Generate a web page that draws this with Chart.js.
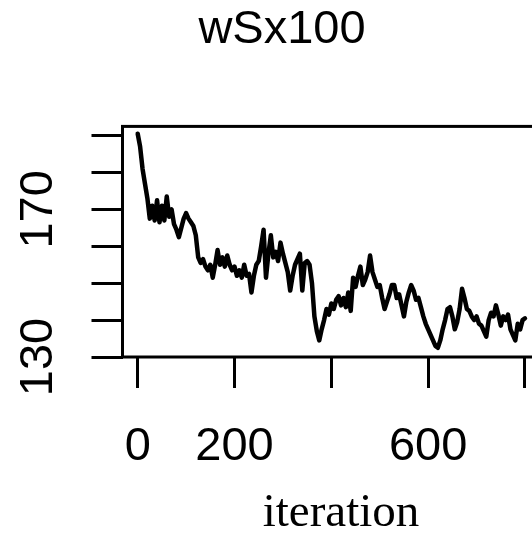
<!DOCTYPE html>
<html>
<head>
<meta charset="utf-8">
<script src="https://cdn.jsdelivr.net/npm/chart.js@4"></script>
<style>
  html, body { margin: 0; padding: 0; background: #fff; overflow: hidden; }
  #wrap { width: 600px; height: 533px; }
</style>
</head>
<body>
<div id="wrap"><canvas id="c" width="600" height="533"></canvas></div>
<script>
const wSx100 = [
  190.5, 187.0, 181.0, 177.0, 173.0, 167.5, 171.0, 167.0, 172.5, 166.5,
  171.0, 167.0, 173.5, 168.0, 170.0, 166.0, 164.5, 162.5, 165.0, 167.5,
  169.0, 167.5, 166.5, 165.5, 163.0, 157.0, 155.5, 156.5, 154.5, 153.5,
  155.0, 151.5, 155.0, 159.0, 155.0, 157.0, 154.5, 157.5, 155.0, 153.5,
  154.5, 152.0, 153.5, 151.5, 155.0, 152.0, 152.5, 147.5, 152.0, 155.0,
  156.0, 160.0, 164.5, 151.5, 158.0, 163.0, 157.0, 158.5, 156.0, 161.0,
  158.0, 155.5, 153.0, 148.0, 152.0, 155.0, 156.5, 158.0, 148.0, 155.5,
  156.0, 155.0, 150.0, 141.0, 137.0, 134.5, 137.5, 140.0, 143.0, 141.5,
  144.5, 143.0, 145.5, 146.5, 144.0, 146.0, 143.5, 147.5, 142.5, 151.5,
  149.0, 152.0, 154.5, 149.5, 151.0, 153.0, 157.5, 153.0, 151.0, 149.0,
  149.5, 146.0, 143.0, 145.0, 147.0, 149.5, 149.5, 146.0, 147.0, 144.0,
  141.0, 145.0, 147.5, 149.5, 148.0, 145.5, 146.0, 143.5, 141.0, 139.0,
  137.5, 136.0, 134.5, 133.0, 132.5, 134.5, 137.5, 140.0, 143.0, 143.5,
  141.0, 137.5, 139.5, 143.0, 148.5, 146.0, 143.0, 142.5, 141.0, 140.0,
  141.0, 139.0, 138.5, 137.0, 135.5, 140.0, 142.0, 141.0, 144.0, 141.5,
  138.5, 141.0, 140.0, 141.5, 137.5, 136.0, 134.5, 139.0, 137.5, 140.0,
  140.5
];
const iterations = wSx100.map((v, i) => i * 5);

const xTicks = [0, 200, 400, 600, 800];
const xTickLabels = [0, 200, 600];
const yTicks = [130, 140, 150, 160, 170, 180, 190];
const yTickLabels = [130, 170];

const points = iterations.map((it, i) => ({ x: it, y: wSx100[i] }));

const boxPlugin = {
  id: 'box',
  afterDatasetsDraw(chart) {
    const a = chart.chartArea;
    const ctx = chart.ctx;
    ctx.save();
    ctx.strokeStyle = '#000';
    ctx.lineWidth = 3;
    ctx.strokeRect(a.left, a.top, a.right - a.left, a.bottom - a.top);
    ctx.restore();
  }
};

Chart.defaults.color = '#000';

new Chart(document.getElementById('c').getContext('2d'), {
  type: 'line',
  data: {
    datasets: [{
      data: points,
      borderColor: '#000',
      borderWidth: 4.5,
      pointRadius: 0,
      tension: 0,
      borderJoinStyle: 'round',
      borderCapStyle: 'round'
    }]
  },
  options: {
    responsive: false,
    animation: false,
    devicePixelRatio: 1,
    layout: { padding: { left: 4.5, right: 40.5, top: 0, bottom: 0 } },
    plugins: {
      legend: { display: false },
      tooltip: { enabled: false },
      title: {
        display: true,
        text: 'wSx100',
        color: '#000',
        font: { family: 'Liberation Sans', size: 47, weight: 'normal', lineHeight: 1.2 },
        padding: { top: 2, bottom: 68 }
      }
    },
    scales: {
      x: {
        type: 'linear',
        min: -31.4,
        max: 871.3,
        afterFit: (s) => { s.height = 176; },
        afterBuildTicks: (s) => { s.ticks = xTicks.map(v => ({ value: v })); },
        border: { display: false },
        grid: { drawOnChartArea: false, drawTicks: true, tickLength: 31, lineWidth: 3, color: '#000' },
        ticks: {
          autoSkip: false,
          maxRotation: 0,
          padding: 31,
          color: '#000',
          font: { family: 'Liberation Sans', size: 47, lineHeight: 1.2 },
          callback: (v) => xTickLabels.includes(v) ? String(v) : ''
        },
        title: {
          display: true,
          text: 'iteration',
          color: '#000',
          padding: 0,
          font: { family: 'Liberation Serif', size: 47, lineHeight: 0.82 }
        }
      },
      y: {
        min: 130,
        max: 192.5,
        afterFit: (s) => { s.width = 118; },
        afterBuildTicks: (s) => { s.ticks = yTicks.map(v => ({ value: v })); },
        border: { display: false },
        grid: { drawOnChartArea: false, drawTicks: true, tickLength: 31, lineWidth: 3, color: '#000' },
        ticks: {
          autoSkip: false,
          minRotation: 90,
          maxRotation: 90,
          crossAlign: 'center',
          padding: 13.5,
          color: '#000',
          font: { family: 'Liberation Sans', size: 47, lineHeight: 1.2 },
          callback: (v) => yTickLabels.includes(v) ? String(v) : ''
        }
      }
    }
  },
  plugins: [boxPlugin]
});
</script>
</body>
</html>
